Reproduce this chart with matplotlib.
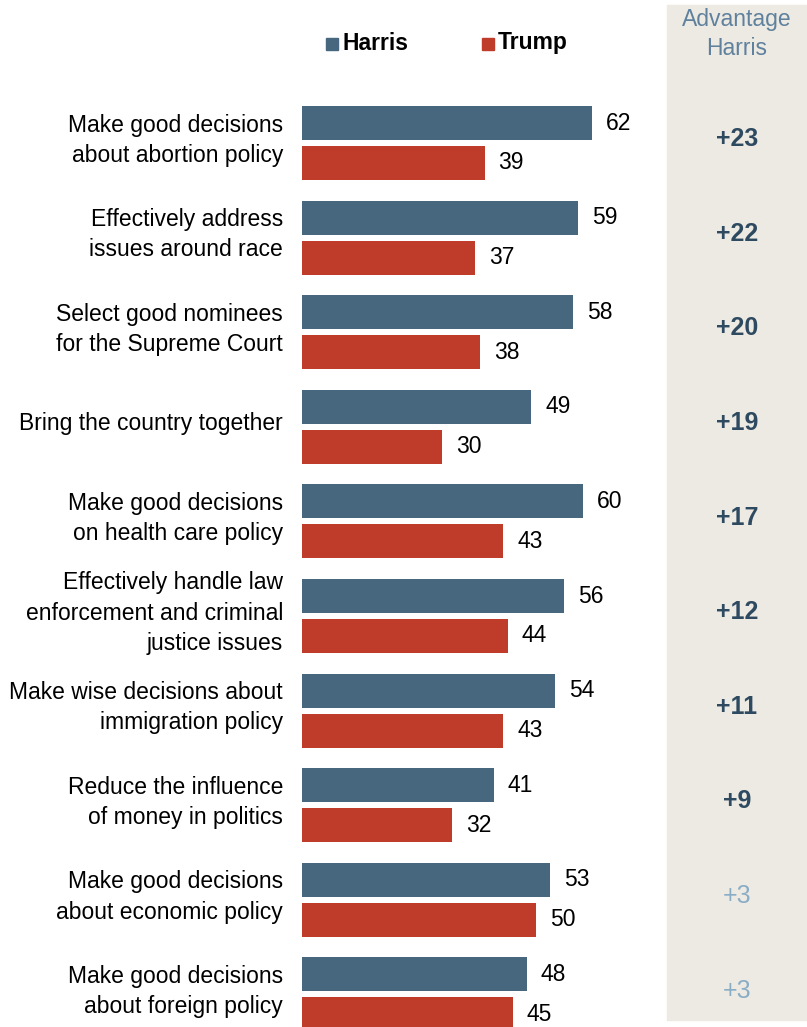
import numpy as np
import matplotlib
matplotlib.use("Agg")
import matplotlib.pyplot as plt
from matplotlib.patches import Rectangle
from matplotlib.transforms import blended_transform_factory

plt.rcParams['font.family'] = ['Liberation Sans', 'DejaVu Sans']

# survey items, top to bottom
items = [
    "Make good decisions\nabout abortion policy",
    "Effectively address\nissues around race",
    "Select good nominees\nfor the Supreme Court",
    "Bring the country together",
    "Make good decisions\non health care policy",
    "Effectively handle law\nenforcement and criminal\njustice issues",
    "Make wise decisions about\nimmigration policy",
    "Reduce the influence\nof money in politics",
    "Make good decisions\nabout economic policy",
    "Make good decisions\nabout foreign policy",
]
harris = [62, 59, 58, 49, 60, 56, 54, 41, 53, 48]
trump = [39, 37, 38, 30, 43, 44, 43, 32, 50, 45]
advantage = [h - t for h, t in zip(harris, trump)]

HARRIS_C = '#47677f'
TRUMP_C = '#bf3b2a'
PANEL_C = '#edeae3'
ADV_DARK = '#2e4a60'
ADV_LIGHT = '#8aadc6'

W, H = 807, 1027
fig = plt.figure(figsize=(W / 100, H / 100), dpi=100)

# shaded column on the right (behind everything else)
fig.patches.append(Rectangle((667 / W, 1 - 1020 / H), 140 / W, 1015 / H,
                             transform=fig.transFigure, color=PANEL_C, zorder=-5))

# bar axes: 1 unit in y = one item row
left_px, top_px, bottom_px = 302, 95.7, 1027.5
xmax = 70
width_px = xmax * 4.68
ax = fig.add_axes([left_px / W, 1 - bottom_px / H, width_px / W, (bottom_px - top_px) / H])
ax.set_xlim(0, xmax)
ax.set_ylim(9.35, -0.5)
ax.axis('off')

y = np.arange(len(items))
off, bh = 0.211, 0.36
ax.barh(y - off, harris, height=bh, color=HARRIS_C)
ax.barh(y + off, trump, height=bh, color=TRUMP_C)

fs = 16.5
col = blended_transform_factory(fig.transFigure, ax.transData)
for i in range(len(items)):
    ax.annotate(str(harris[i]), (harris[i], y[i] - off), xytext=(14, 0),
                textcoords='offset pixels', va='center', ha='left', fontsize=fs)
    ax.annotate(str(trump[i]), (trump[i], y[i] + off), xytext=(14, 0),
                textcoords='offset pixels', va='center', ha='left', fontsize=fs)
    ax.annotate(items[i], (0, y[i] - 0.03), xytext=(-19, 0),
                textcoords='offset pixels', va='center', ha='right',
                fontsize=fs, linespacing=1.4, annotation_clip=False)
    strong = advantage[i] >= 5
    ax.text(737 / W, y[i] - 0.04, "+%d" % advantage[i], transform=col,
            ha='center', va='center', fontsize=18, clip_on=False,
            fontweight='bold' if strong else 'normal',
            color=ADV_DARK if strong else ADV_LIGHT)

# header for the shaded column
fig.text(737 / W, 1 - 34 / H, "Advantage\nHarris", ha='center', va='center',
         fontsize=fs, color='#5f819d', linespacing=1.35)

# legend
for sx, name, c in [(326, "Harris", HARRIS_C), (482, "Trump", TRUMP_C)]:
    fig.patches.append(Rectangle((sx / W, 1 - 50 / H), 12 / W, 12 / H,
                                 transform=fig.transFigure, color=c))
    fig.text((sx + 16) / W, 1 - 43 / H, name, ha='left', va='center',
             fontsize=fs, fontweight='bold', color='black')

fig.savefig('out.png', dpi=100)
